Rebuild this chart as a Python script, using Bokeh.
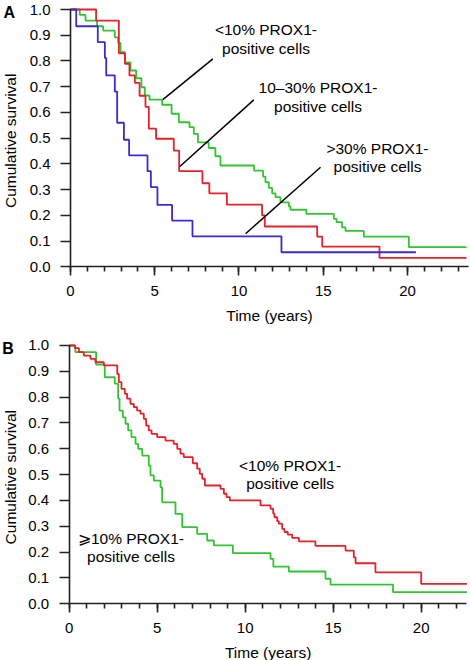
import math
from bokeh.plotting import figure
from bokeh.models import (Range1d, FixedTicker, SingleIntervalTicker, PrintfTickFormatter, Label)
from bokeh.layouts import column
from bokeh.embed import file_html
from bokeh.resources import INLINE

FONT = "Liberation Sans"
RED = "#e4222a"
GREEN = "#33c433"
BLUE = "#3b2bd0"

# ---------------- Panel A data (years, cumulative survival) ----------------
a_hi_t = [0, 0.34, 1.62, 2.04, 2.12, 2.63, 2.77, 3.17, 3.48, 4.57, 4.77, 5.16, 6.03, 7.24, 12.52, 20.5]
a_hi_s = [1.0, 0.935, 0.873, 0.812, 0.744, 0.681, 0.560, 0.494, 0.433, 0.372, 0.31, 0.241, 0.18, 0.119, 0.057, 0.057]

a_mid_t = [0, 1.52, 2.87, 3.23, 3.50, 3.82, 4.10, 4.45, 4.65, 5.08, 6.13, 6.45, 7.83, 8.24, 9.28,
           11.37, 11.53, 14.64, 14.94, 18.34, 23.5]
a_mid_s = [1.0, 0.957, 0.83, 0.789, 0.744, 0.715, 0.665, 0.622, 0.537, 0.498, 0.452, 0.372, 0.325, 0.286, 0.242,
           0.2, 0.157, 0.118, 0.079, 0.035, 0.035]

a_lo_t = [0, 0.55, 0.89, 1.58, 1.94, 2.63, 2.83, 2.97, 3.23, 3.56, 3.90, 4.21, 4.41, 4.69, 5.44, 6.0,
          6.43, 7.06, 7.32, 7.56, 8.2, 8.6, 8.9, 10.9, 11.43, 11.57, 11.77, 11.97, 12.17, 12.46,
          12.96, 13.06, 14.0, 15.63, 15.79, 16.12, 16.32, 17.41, 20.08, 23.5]
a_lo_s = [1.0, 0.979, 0.957, 0.935, 0.918, 0.892, 0.87, 0.834, 0.795, 0.763, 0.733, 0.698, 0.666, 0.65, 0.63, 0.595,
          0.562, 0.543, 0.517, 0.484, 0.462, 0.43, 0.394, 0.374, 0.351, 0.329, 0.307, 0.286, 0.271, 0.251,
          0.235, 0.222, 0.206, 0.187, 0.174, 0.154, 0.140, 0.118, 0.077, 0.077]

# ---------------- Panel B data ----------------
b_lo_t = [0, 0.32, 0.55, 0.83, 1.21, 1.49, 1.97, 2.73, 2.82, 2.97, 3.16, 3.29, 3.48, 3.67, 3.86, 4.05,
          4.24, 4.37, 4.52, 4.68, 5.0, 5.47, 5.94, 6.14, 6.32, 6.51, 7.02, 7.27, 7.42, 7.56, 7.71,
          8.6, 8.79, 8.94, 9.13, 10.87, 11.44, 11.59, 11.66, 11.82, 11.91, 12.1, 12.23, 12.42, 12.67,
          13.05, 13.99, 15.7, 16.17, 16.27, 17.4, 20.0, 22.6]
b_lo_s = [1.0, 0.99, 0.974, 0.961, 0.948, 0.935, 0.923, 0.89, 0.858, 0.832, 0.813, 0.794, 0.774, 0.761, 0.748, 0.736,
          0.716, 0.69, 0.671, 0.658, 0.645, 0.632, 0.619, 0.6, 0.581, 0.568, 0.544, 0.523, 0.503, 0.484, 0.458,
          0.445, 0.426, 0.413, 0.4, 0.381, 0.368, 0.35, 0.335, 0.32, 0.31, 0.29, 0.278, 0.268, 0.255,
          0.242, 0.224, 0.206, 0.18, 0.157, 0.122, 0.077, 0.077]

b_hi_t = [0, 0.35, 1.53, 2.02, 2.59, 2.78, 2.86, 3.05, 3.2, 3.35, 3.54, 3.77, 3.92, 4.15, 4.52, 4.62,
          4.81, 5.19, 5.28, 6.04, 6.42, 7.27, 7.84, 8.22, 9.3, 11.44, 11.6, 12.48, 14.56, 14.85, 18.4, 22.6]
b_hi_s = [1.0, 0.974, 0.926, 0.877, 0.852, 0.794, 0.748, 0.722, 0.697, 0.671, 0.645, 0.619, 0.6, 0.574, 0.535, 0.497,
          0.477, 0.451, 0.393, 0.348, 0.297, 0.271, 0.245, 0.226, 0.196, 0.174, 0.144, 0.125, 0.097, 0.074, 0.045, 0.045]

y_ticks = [0.0, 0.1, 0.2, 0.3, 0.4, 0.5, 0.6, 0.7, 0.8, 0.9, 1.0]

# annotation pointer lines (panel A)
a_ptr_x0 = [5.48, 6.49, 10.39]
a_ptr_y0 = [0.650, 0.39, 0.129]
a_ptr_x1 = [8.45, 10.88, 14.84]
a_ptr_y1 = [0.808, 0.649, 0.387]


def make_fig(xmin, xmax, xaxis_end, ymin, ymax):
    p = figure(width=470, height=330, x_range=Range1d(xmin, xmax), y_range=Range1d(ymin, ymax),
               output_backend="svg", toolbar_location=None,
               min_border_left=0, min_border_right=0, min_border_top=0, min_border_bottom=0)
    p.outline_line_color = None
    p.xgrid.visible = False
    p.ygrid.visible = False
    p.background_fill_color = "white"

    ax = p.xaxis[0]
    ax.fixed_location = 0
    ax.ticker = SingleIntervalTicker(interval=5, num_minor_ticks=5)
    ax.bounds = (0, xaxis_end)
    ax.major_tick_in = 0
    ax.major_tick_out = 9
    ax.minor_tick_in = 0
    ax.minor_tick_out = 5
    ax.major_label_standoff = 10

    ay = p.yaxis[0]
    ay.fixed_location = 0
    ay.ticker = FixedTicker(ticks=y_ticks)
    ay.formatter = PrintfTickFormatter(format="%.1f")
    ay.bounds = (0, 1)
    ay.major_tick_in = 0
    ay.major_tick_out = 10
    ay.minor_tick_out = 0
    ay.minor_tick_in = 0
    ay.major_label_standoff = 10

    for a in (ax, ay):
        a.axis_line_color = "#222222"
        a.axis_line_width = 1.6
        a.major_tick_line_color = "#222222"
        a.major_tick_line_width = 1.6
        a.minor_tick_line_color = "#222222"
        a.minor_tick_line_width = 1.6
        a.major_label_text_font = FONT
        a.major_label_text_font_size = "15px"
        a.major_label_text_color = "black"
    return p


def add_text(p, x, y, txt, size="15.5px", bold=False, angle=0.0):
    p.add_layout(Label(x=x, y=y, text=txt, text_font=FONT, text_font_size=size,
                       text_font_style="bold" if bold else "normal", angle=angle,
                       text_align="center", text_baseline="middle", text_color="black"))


# ---------------- Panel A ----------------
pA = make_fig(-4.154, 23.74, 23.62, -0.247, 1.035)
pA.step(a_lo_t, a_lo_s, mode="after", line_color=GREEN, line_width=1.8)
pA.step(a_mid_t, a_mid_s, mode="after", line_color=RED, line_width=1.8)
pA.step(a_hi_t, a_hi_s, mode="after", line_color=BLUE, line_width=1.8)
pA.segment(x0=a_ptr_x0, y0=a_ptr_y0, x1=a_ptr_x1, y1=a_ptr_y1, line_color="black", line_width=1.5)
add_text(pA, 11.6, 0.922, "<10% PROX1-")
add_text(pA, 11.6, 0.850, "positive cells")
add_text(pA, 14.69, 0.696, "10\u201330% PROX1-")
add_text(pA, 14.69, 0.623, "positive cells")
add_text(pA, 18.22, 0.461, ">30% PROX1-")
add_text(pA, 18.22, 0.391, "positive cells")
add_text(pA, -3.63, 0.987, "A", size="16px", bold=True)
add_text(pA, -3.56, 0.49, "Cumulative survival", angle=math.pi / 2)
add_text(pA, 11.81, -0.189, "Time (years)")

# ---------------- Panel B ----------------
pB = make_fig(-3.903, 22.80, 22.6, -0.2195, 1.058)
pB.step(b_hi_t, b_hi_s, mode="after", line_color=GREEN, line_width=1.8)
pB.step(b_lo_t, b_lo_s, mode="after", line_color=RED, line_width=1.8)
add_text(pB, 12.55, 0.535, "<10% PROX1-")
add_text(pB, 12.55, 0.465, "positive cells")
add_text(pB, 3.51, 0.252, "\u2a7e10% PROX1-")
add_text(pB, 3.51, 0.183, "positive cells")
add_text(pB, -3.48, 0.99, "B", size="16px", bold=True)
add_text(pB, -3.34, 0.49, "Cumulative survival", angle=math.pi / 2)
add_text(pB, 11.3, -0.189, "Time (years)")

layout = column(pA, pB, spacing=0)
open("out.html", "w").write(file_html(layout, INLINE))
